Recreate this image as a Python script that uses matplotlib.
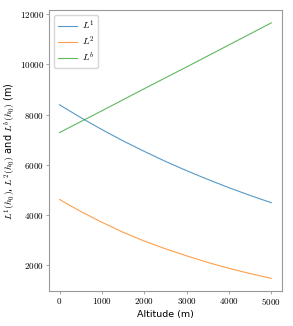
import matplotlib

matplotlib.use("Agg")
import matplotlib.pyplot as plt

altitude = [0, 500, 1000, 1500, 2000, 2500, 3000, 3500, 4000, 4500, 5000]
l1_values = [8390, 7880, 7400, 6950, 6530, 6130, 5760, 5410, 5080, 4770, 4480]
l2_values = [4610, 4130, 3700, 3300, 2950, 2640, 2360, 2095, 1860, 1650, 1460]
lb_values = [7280, 7715, 8150, 8590, 9030, 9465, 9900, 10340, 10780, 11220, 11660]
x_ticks = [0, 1000, 2000, 3000, 4000, 5000]
y_ticks = [2000, 4000, 6000, 8000, 10000, 12000]

plt.rcParams["mathtext.fontset"] = "cm"
plt.rcParams["font.family"] = ["DejaVu Sans"]

fig = plt.figure(figsize=(2.93, 3.26), dpi=100)
ax = fig.add_axes([0.167, 0.107, 0.795, 0.862])

ax.plot(altitude, l1_values, color="tab:blue", alpha=0.75, linewidth=0.8, label=r"$L^1$")
ax.plot(altitude, l2_values, color="tab:orange", alpha=0.75, linewidth=0.8, label=r"$L^2$")
ax.plot(altitude, lb_values, color="tab:green", alpha=0.75, linewidth=0.8, label=r"$L^b$")

ax.set_xticks(x_ticks)
ax.set_xticklabels([f"${v}$" for v in x_ticks], fontsize=6.5)
ax.set_yticks(y_ticks)
ax.set_yticklabels([f"${v}$" for v in y_ticks], fontsize=6.5)
ax.tick_params(length=2, width=0.6, color="#999999", pad=1.5)
for spine in ax.spines.values():
    spine.set_color("#999999")
    spine.set_linewidth(0.8)

ax.set_xlabel("Altitude (m)", fontsize=6.8, labelpad=2)
ax.set_ylabel(r"$L^1(h_0)$, $L^2(h_0)$ and $L^b(h_0)$ (m)", fontsize=7, labelpad=1)

ax.legend(loc="upper left", fontsize=7, handlelength=2.0, borderpad=0.4,
          labelspacing=0.25, handletextpad=0.5)

fig.savefig("out.png", dpi=100)
